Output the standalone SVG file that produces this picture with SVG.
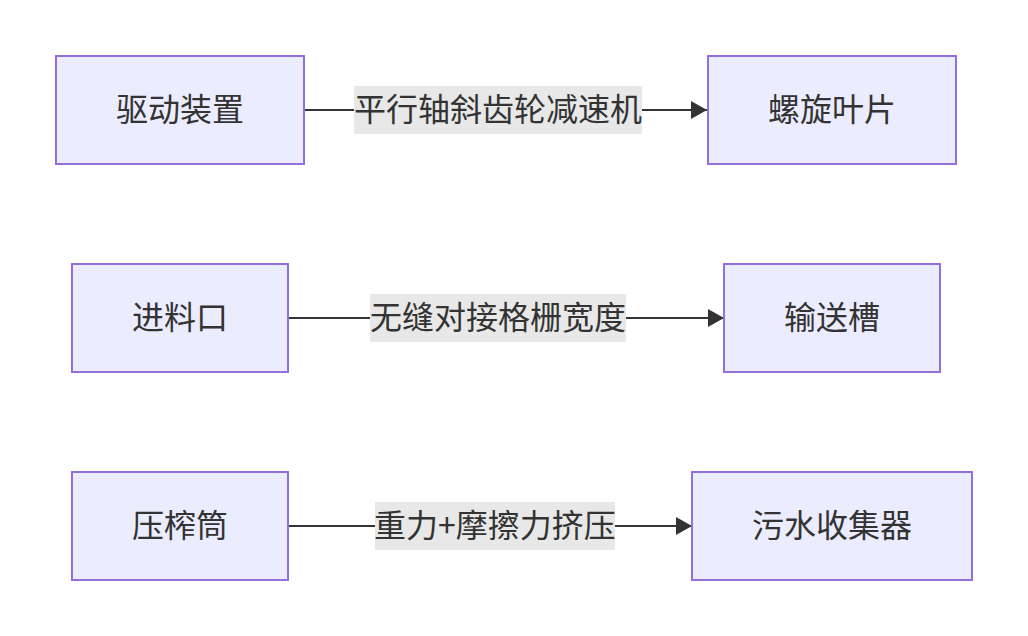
<svg xmlns="http://www.w3.org/2000/svg" width="1028" height="636" viewBox="0 0 1028 636">
<style>
.node rect{fill:#ECECFF;stroke:#9370DB;stroke-width:2}
text{font-family:"Noto Sans CJK SC","Liberation Sans",sans-serif;font-size:32px;fill:#333;text-anchor:middle;dominant-baseline:central}
.edge{stroke:#333;stroke-width:2;fill:none}
.lbl{fill:#E8E8E8}
</style>
<defs>
<marker id="arr" viewBox="0 0 16 18" refX="16" refY="9" markerWidth="16" markerHeight="18" markerUnits="userSpaceOnUse" orient="auto">
<path d="M0,0 L16,9 L0,18 Z" fill="#333"/>
</marker>
</defs>
<rect width="1028" height="636" fill="#fff"/>
<g id="connectors">
<path class="edge" d="M304,110 H707" marker-end="url(#arr)"/>
<path class="edge" d="M288,318 H724" marker-end="url(#arr)"/>
<path class="edge" d="M288,526 H692" marker-end="url(#arr)"/>
<g id="label1"><rect class="lbl" x="354" y="86" width="288" height="48"/><text x="498" y="107">平行轴斜齿轮减速机</text></g>
<g id="label2"><rect class="lbl" x="370" y="294" width="256" height="48"/><text x="498" y="315">无缝对接格栅宽度</text></g>
<g id="label3"><rect class="lbl" x="375" y="502" width="240" height="48"/><text x="495" y="523">重力+摩擦力挤压</text></g>
</g>
<g id="node-drive" class="node"><rect x="56" y="56" width="248" height="108"/><text x="180" y="107">驱动装置</text></g>
<g id="node-blade" class="node"><rect x="708" y="56" width="248" height="108"/><text x="832" y="107">螺旋叶片</text></g>
<g id="node-inlet" class="node"><rect x="72" y="264" width="216" height="108"/><text x="180" y="315">进料口</text></g>
<g id="node-trough" class="node"><rect x="724" y="264" width="216" height="108"/><text x="832" y="315">输送槽</text></g>
<g id="node-press" class="node"><rect x="72" y="472" width="216" height="108"/><text x="180" y="523">压榨筒</text></g>
<g id="node-collector" class="node"><rect x="692" y="472" width="280" height="108"/><text x="832" y="523">污水收集器</text></g>
</svg>
